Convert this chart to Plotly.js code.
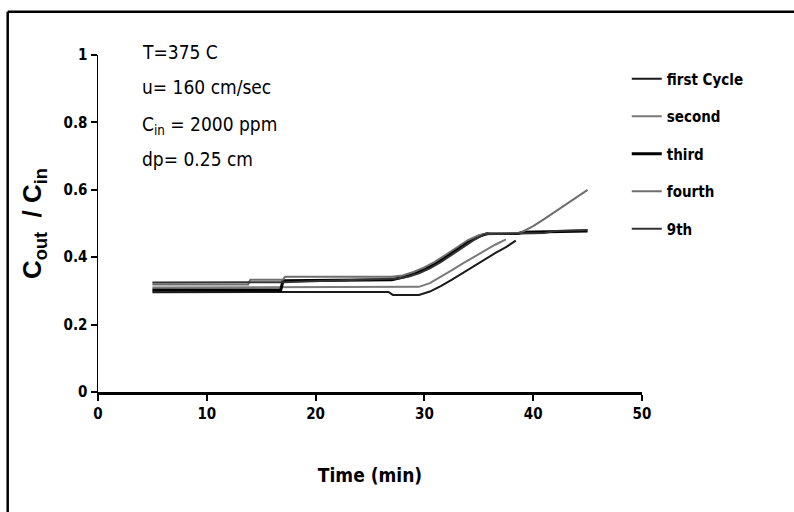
<!DOCTYPE html>
<html>
<head>
<meta charset="utf-8">
<script src="https://cdn.plot.ly/plotly-3.0.1.min.js"></script>
<style>html,body{margin:0;padding:0;background:#fff;}#chart{width:794px;height:512px;}</style>
</head>
<body>
<div id="chart"></div>
<script>
// Series names
const seriesNames = ["first Cycle", "second", "third", "fourth", "9th"];

// first Cycle (lowest curve)
const tFirst = [5, 9, 17, 26.7, 27.1, 29.5, 30.5, 31.5, 32.5, 33.5, 34.5, 35.5, 36.5, 37.5, 38.4];
const vFirst = [0.296, 0.296, 0.297, 0.297, 0.288, 0.288, 0.298, 0.314, 0.333, 0.353, 0.373, 0.393, 0.412, 0.430, 0.449];

// second (middle curve)
const tSecond = [5, 13, 17, 26.5, 27.2, 29.5, 30.5, 31.5, 32.5, 33.5, 34.5, 35.5, 36.5, 37.5];
const vSecond = [0.310, 0.310, 0.312, 0.312, 0.312, 0.312, 0.323, 0.341, 0.361, 0.381, 0.400, 0.419, 0.437, 0.453];

// third (upper group, plateau)
const tThird = [5, 9, 16.8, 17, 27, 28, 29, 30, 31, 32, 33, 34, 35, 35.8, 38.6, 39, 45];
const vThird = [0.303, 0.303, 0.303, 0.330, 0.333, 0.340, 0.350, 0.364, 0.381, 0.402, 0.424, 0.446, 0.462, 0.470, 0.470, 0.474, 0.478];

// fourth (upper group, rises to 0.6)
const tFourth = [5, 13.8, 14, 17, 17.2, 27, 28, 29, 30, 31, 32, 33, 34, 35, 36, 38.8, 40, 41, 42, 43, 44, 45];
const vFourth = [0.319, 0.319, 0.333, 0.333, 0.342, 0.342, 0.346, 0.356, 0.370, 0.387, 0.408, 0.430, 0.451, 0.465, 0.472, 0.472, 0.492, 0.513, 0.535, 0.556, 0.578, 0.600];

// 9th (upper group, plateau)
const tNinth = [5, 17, 27.5, 28.5, 29.5, 30.5, 31.5, 32.5, 33.5, 34.5, 35.5, 41, 42, 45];
const vNinth = [0.325, 0.326, 0.337, 0.342, 0.352, 0.367, 0.385, 0.406, 0.428, 0.450, 0.468, 0.472, 0.478, 0.481];

// Axis ticks
const xTicks = [0, 10, 20, 30, 40, 50];
const yTicks = [0, 0.2, 0.4, 0.6, 0.8, 1];
const yTickText = ["0", "0.2", "0.4", "0.6", "0.8", "1"];

const FONT = "'DejaVu Sans Condensed', 'Liberation Sans Narrow', 'Arial Narrow', sans-serif";

const styles = [
  {color: "#1a1a1a", width: 2},
  {color: "#7a7a7a", width: 2},
  {color: "#000000", width: 3},
  {color: "#6e6e6e", width: 2},
  {color: "#333333", width: 2}
];
const xs = [tFirst, tSecond, tThird, tFourth, tNinth];
const ys = [vFirst, vSecond, vThird, vFourth, vNinth];

const traces = seriesNames.map((n, i) => ({
  x: xs[i], y: ys[i], name: n, type: "scatter", mode: "lines",
  line: {color: styles[i].color, width: styles[i].width},
  legendgroup: "g" + i
}));

const layout = {
  width: 794, height: 512,
  margin: {l: 98, r: 152, t: 55, b: 120},
  paper_bgcolor: "#fff", plot_bgcolor: "#fff",
  font: {family: FONT, color: "#000", size: 14},
  showlegend: true,
  legend: {
    x: 0.972, y: 0.978, xanchor: "left", yanchor: "top",
    font: {family: FONT, size: 15, color: "#000", weight: "bold"},
    tracegroupgap: 15, bgcolor: "rgba(0,0,0,0)", borderwidth: 0
  },
  xaxis: {
    range: [0, 50], tickvals: xTicks, ticktext: xTicks.map(String),
    showgrid: false, zeroline: false,
    showline: true, linecolor: "#000", linewidth: 3,
    ticks: "outside", ticklen: 6, tickwidth: 2, tickcolor: "#000",
    showticklabels: true,
    tickfont: {family: FONT, size: 15, weight: "bold"},
    title: {text: "Time (min)", font: {family: FONT, size: 19, weight: "bold"}, standoff: 47}
  },
  yaxis: {
    range: [0, 1], tickvals: yTicks, ticktext: yTickText,
    showgrid: false, zeroline: false,
    showline: true, linecolor: "#000", linewidth: 1.5,
    ticks: "outside", ticklen: 6, tickwidth: 2, tickcolor: "#000",
    showticklabels: true,
    tickfont: {family: FONT, size: 15, weight: "bold"},
    title: {text: "C<sub>out</sub>  / C<sub>in</sub>", font: {family: "'Liberation Sans', Arial, sans-serif", size: 26, weight: "bold"}, standoff: 14}
  },
  annotations: [
    {xref: "paper", yref: "paper", x: 0.077, y: 1.01, xanchor: "left", yanchor: "middle", showarrow: false,
     text: "T=375 C", font: {family: FONT, size: 19}},
    {xref: "paper", yref: "paper", x: 0.077, y: 0.905, xanchor: "left", yanchor: "middle", showarrow: false,
     text: "u= 160 cm/sec", font: {family: FONT, size: 19}},
    {xref: "paper", yref: "paper", x: 0.077, y: 0.79, xanchor: "left", yanchor: "middle", showarrow: false,
     text: "C<sub>in</sub> = 2000 ppm", font: {family: FONT, size: 19}},
    {xref: "paper", yref: "paper", x: 0.077, y: 0.69, xanchor: "left", yanchor: "middle", showarrow: false,
     text: "dp= 0.25 cm", font: {family: FONT, size: 19}}
  ],
  shapes: [
    {type: "line", xref: "paper", yref: "paper", x0: -0.166, x1: -0.166, y0: 1.128, y1: -0.5, line: {color: "#000", width: 2.5}},
    {type: "line", xref: "paper", yref: "paper", x0: -0.166, x1: 1.6, y0: 1.128, y1: 1.128, line: {color: "#000", width: 2.5}}
  ]
};

Plotly.newPlot("chart", traces, layout, {displayModeBar: false, staticPlot: true});
</script>
</body>
</html>
